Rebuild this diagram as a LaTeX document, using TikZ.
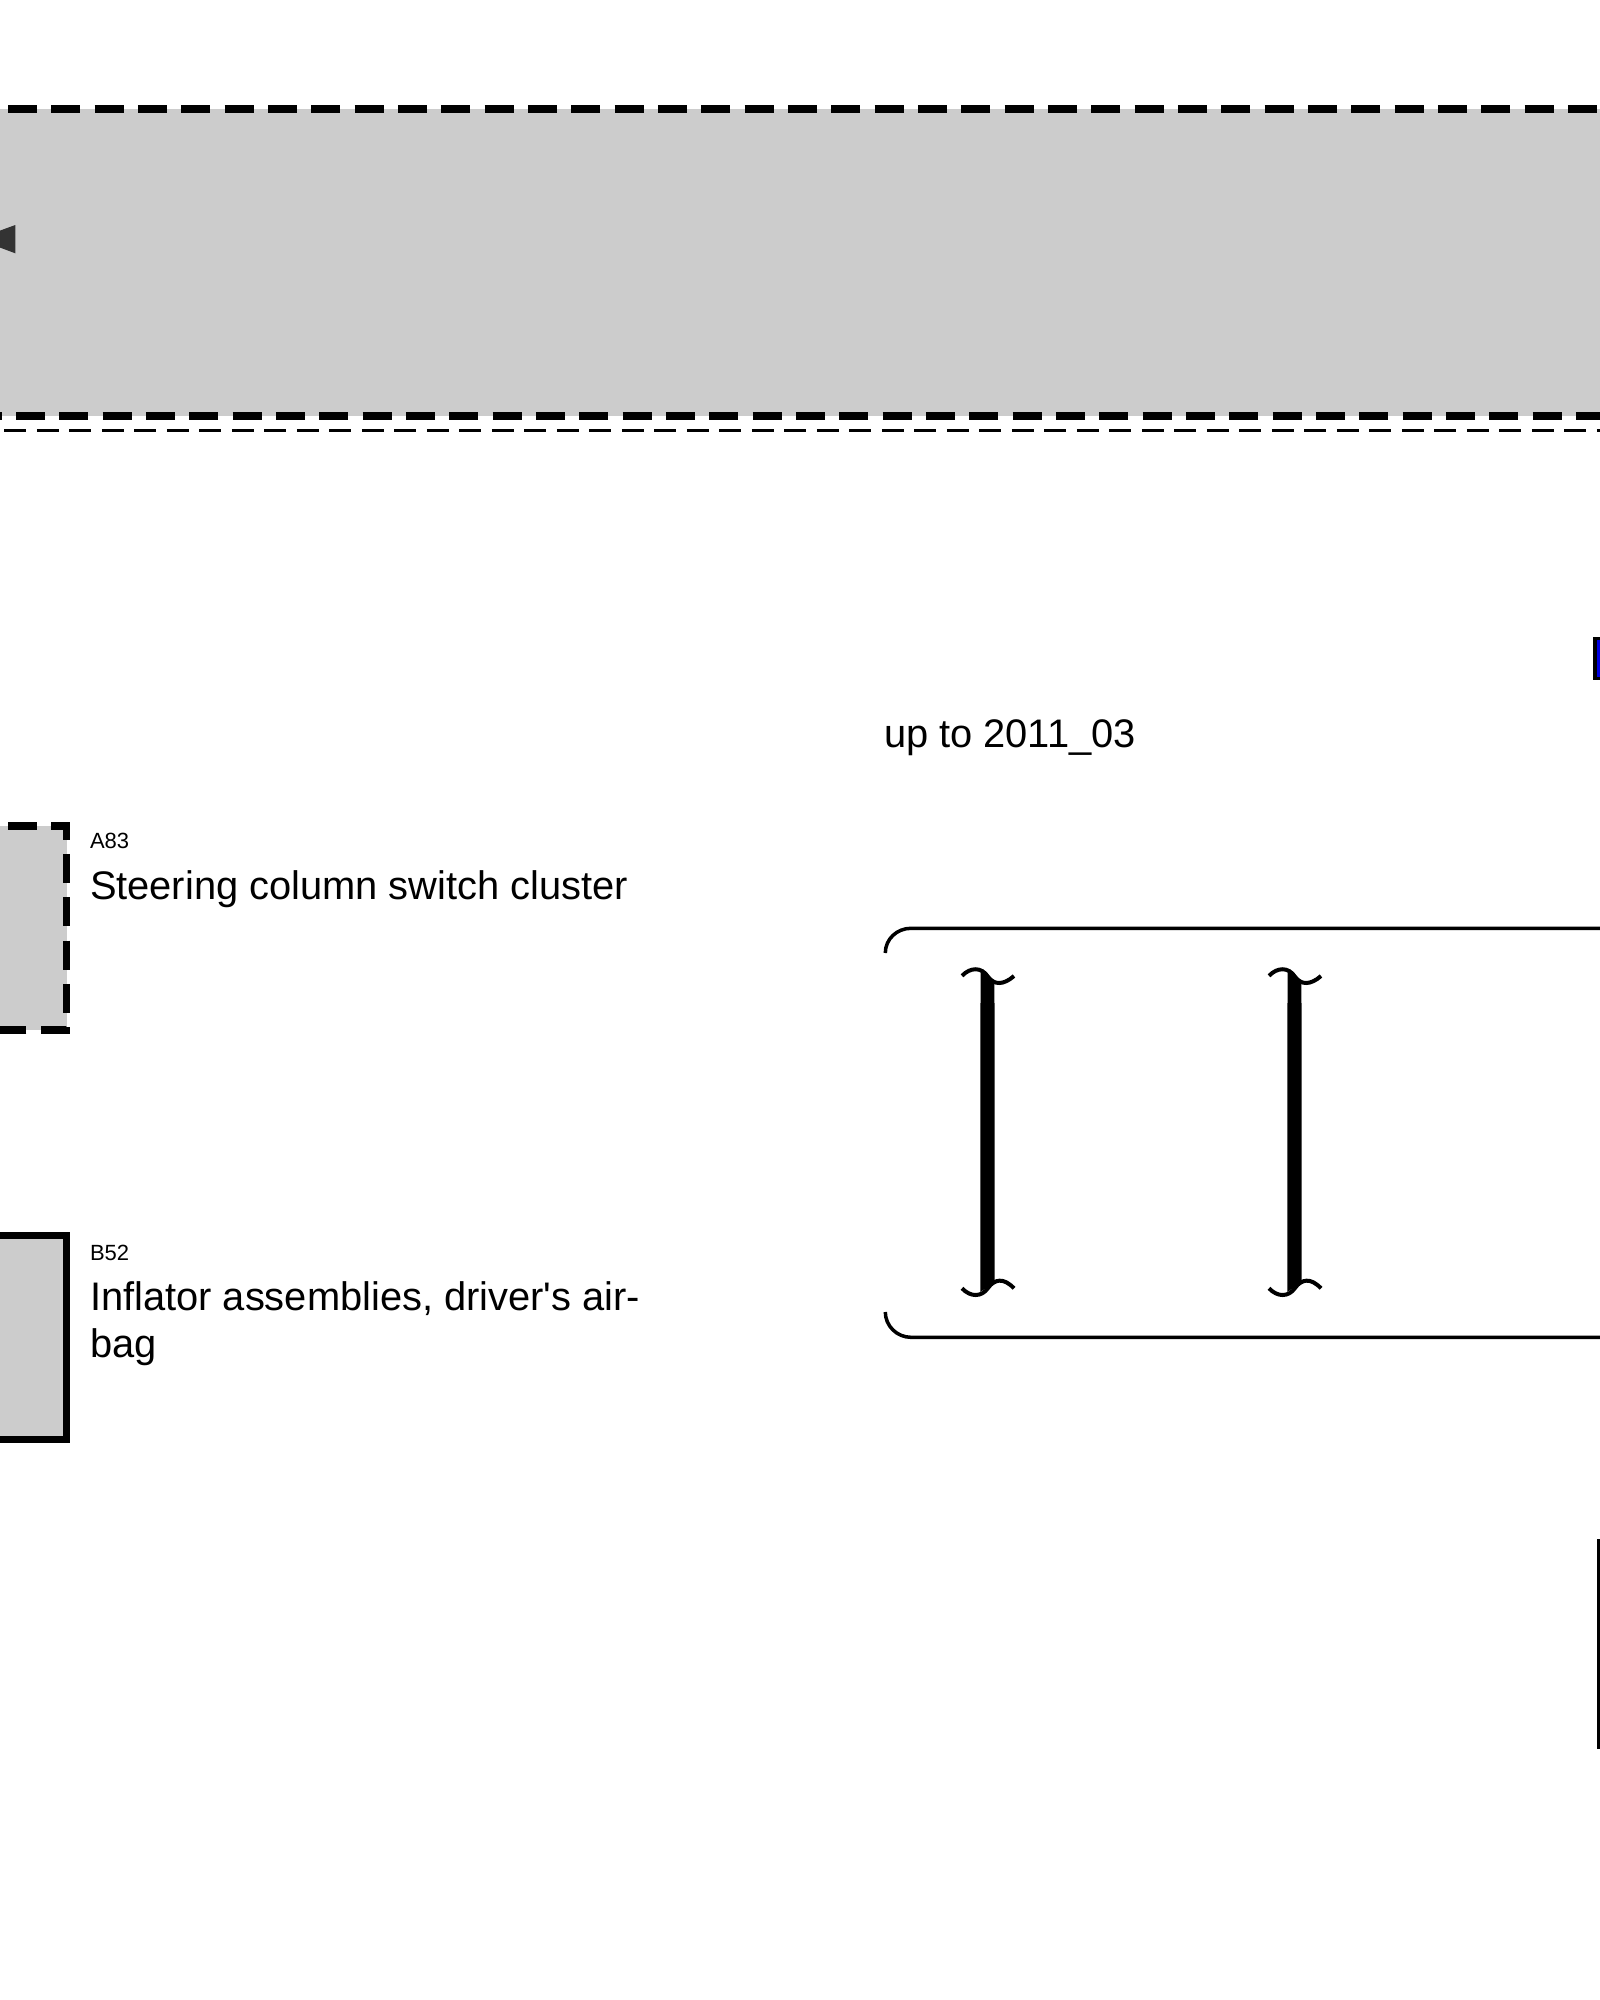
\documentclass[tikz,border=0pt]{standalone}
\usepackage{fontspec}
\setmainfont{Liberation Sans}
\newfontfamily\rawfont{Liberation Sans}
\tikzset{
  heavydash/.style={line width=7.7pt,dash pattern=on 29pt off 14.33pt,line cap=butt,miter limit=10},
  thindash/.style={line width=3.6pt,dash pattern=on 21.7pt off 10.8pt,line cap=butt},
  graybox/.style={fill=boxgray,draw=none},
  lab/.style={anchor=base west,inner sep=0pt,outer sep=0pt,font=\fontsize{39.85}{47}\selectfont,text=black},
  tag/.style={anchor=base west,inner sep=0pt,outer sep=0pt,font=\fontsize{22}{26}\selectfont,text=black},
  tilde/.style={line width=4pt,line cap=butt},
  frameline/.style={line width=3.5pt,line cap=butt}
}
\definecolor{boxgray}{HTML}{CCCCCC}
\definecolor{tridark}{HTML}{333333}
\definecolor{bluefill}{RGB}{0,0,225}
\newcommand{\stemglyph}[1]{%
  \fill[black] (#1-6.8,972) -- (#1+6.8,980) -- (#1+6.8,1003) -- (#1+7.2,1003) -- (#1+7.2,1282) -- (#1-7.2,1292) -- (#1-7.2,1003) -- (#1-6.8,1003) -- cycle;
  \draw[tilde] (#1-25.5,975.8) .. controls (#1-17,967) and (#1-6,966.8) .. (#1+0.5,976.7) .. controls (#1+6.5,985.2) and (#1+16,985.2) .. (#1+26.5,976);
  \draw[tilde] (#1-25.5,1288.3) .. controls (#1-17,1297.3) and (#1-6,1297.3) .. (#1+0.5,1288) .. controls (#1+7,1279) and (#1+16,1277.3) .. (#1+26.5,1288.3);
}
\begin{document}
\begin{tikzpicture}[x=1pt,y=-1pt]
\useasboundingbox (0,0) rectangle (1600,2000);
\clip (0,0) rectangle (1600,2000);
\fill[white] (0,0) rectangle (1600,2000);
% top band
\fill[graybox] (-10,109.3) rectangle (1610,416);
\draw[heavydash] (-35.33,109.3) -- (1640,109.3);
\draw[heavydash] (-27.33,416.3) -- (1640,416.3);
\draw[thindash] (-28.2,430.3) -- (1640,430.3);
\fill[tridark] (-23,239) -- (15.3,225) -- (15.3,253.3) -- cycle;
% A83
\fill[graybox] (-10,825.7) rectangle (66.5,1030.3);
\draw[heavydash] (-35.33,825.7) -- (66.5,825.7) -- (66.5,1030.3) -- (-60,1030.3);
\node[tag] (a83tag) at (90,848) {A83};
\node[lab] (a83lab) at (90,899) {Steering column switch cluster};
% B52
\fill[graybox] (-10,1235.5) rectangle (66.7,1439.3);
\draw[line width=7pt] (-20,1235.5) -- (66.8,1235.5) -- (66.8,1439.3) -- (-20,1439.3);
\node[tag] (b52tag) at (90,1260) {B52};
\node[lab] (b52lab) at (90,1310) {Inflator assemblies, driver{\rawfont '}s air-};
\node[lab] (b52lab2) at (90,1357) {bag};
% date
\node[lab] (date) at (884,747) {up to 2011\_03};
% frame
\draw[frameline] (885.3,953) .. controls (885.3,939) and (897,928.3) .. (911,928.3) -- (1640,928.3);
\draw[frameline] (885.3,1312) .. controls (885.3,1326) and (897,1337.3) .. (911,1337.3) -- (1640,1337.3);
\stemglyph{987.5}
\stemglyph{1294.5}
% right side
\draw[line width=3.5pt,fill=bluefill,draw=black] (1594.8,638.5) rectangle (1640,678.5);
\draw[line width=2.8pt] (1598.7,1539) -- (1598.7,1749);
\end{tikzpicture}
\end{document}
